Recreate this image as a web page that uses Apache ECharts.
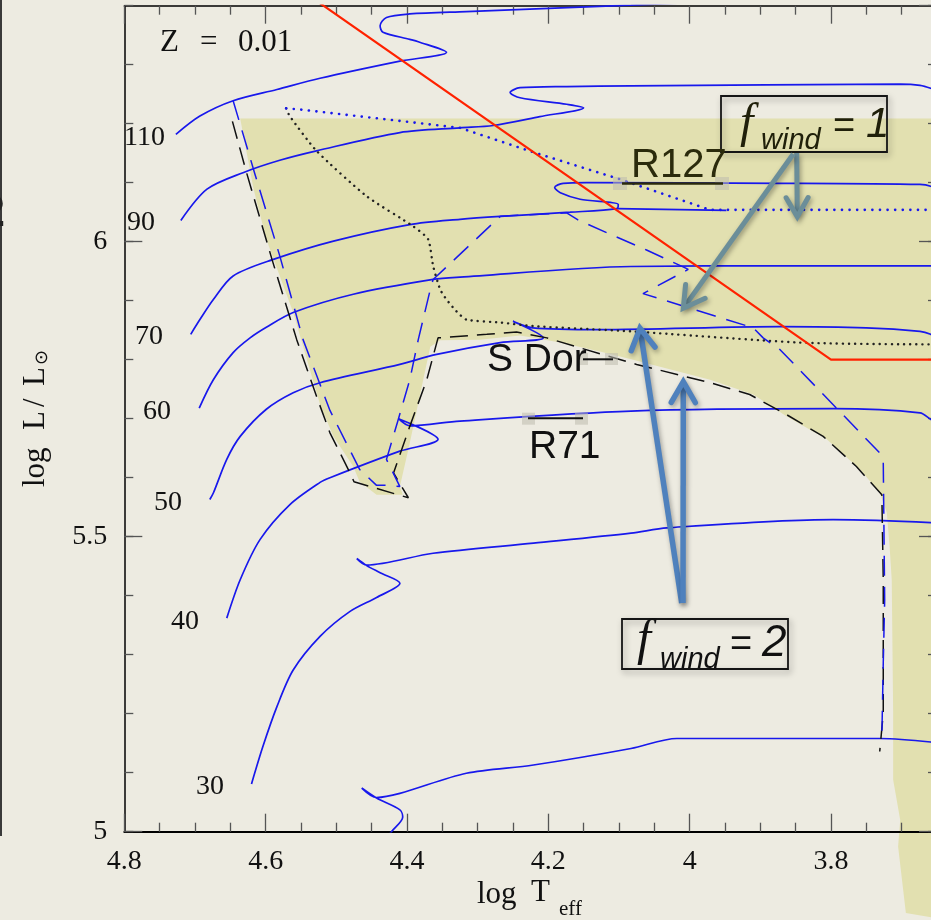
<!DOCTYPE html>
<html><head><meta charset="utf-8">
<script src="https://cdn.jsdelivr.net/npm/echarts@6/dist/echarts.min.js"></script>
<style>html,body{margin:0;padding:0;background:#edebe1;}#c{width:931px;height:920px;}</style>
</head><body><div id="c"></div><script>
// ---------- data (log Teff, log L/Lsun) ----------
const massLabels = ['110','90','70','60','50','40','30'];
const track110 = [[4.727,6.182],[4.693,6.213],[4.646,6.239],[4.584,6.258],[4.523,6.277],[4.410,6.306],[4.344,6.321],[4.384,6.339],[4.396,6.343],[4.434,6.355],[4.438,6.366],[4.429,6.380],[4.396,6.386],[4.316,6.390],[4.083,6.401],[3.985,6.406]];
const track90 = [[4.720,6.036],[4.683,6.089],[4.632,6.117],[4.580,6.138],[4.528,6.154],[4.410,6.185],[4.325,6.193],[4.278,6.197],[4.212,6.212],[4.150,6.227],[4.174,6.233],[4.240,6.244],[4.254,6.253],[4.240,6.261],[4.174,6.263],[4.083,6.264],[3.702,6.267],[3.674,6.265],[3.659,6.260],[3.646,6.253]];
const track70 = [[4.706,5.843],[4.693,5.868],[4.674,5.902],[4.646,5.942],[4.589,5.970],[4.504,6.001],[4.396,6.029],[4.325,6.038],[4.268,6.043],[4.169,6.050],[4.103,6.056],[4.101,6.063],[4.155,6.072],[4.183,6.083],[4.191,6.092],[4.179,6.099],[4.146,6.100],[3.872,6.099],[3.674,6.097],[3.659,6.094],[3.646,6.085]];
const track70b = [[4.103,6.056],[3.948,6.053]];
const track60 = [[4.694,5.718],[4.674,5.766],[4.646,5.812],[4.622,5.837],[4.599,5.855],[4.561,5.880],[4.476,5.911],[4.363,5.936],[4.325,5.940],[4.083,5.958],[3.872,5.959],[3.659,5.959],[3.646,5.956]];
const track50 = [[4.679,5.563],[4.674,5.574],[4.655,5.631],[4.636,5.670],[4.599,5.716],[4.561,5.744],[4.523,5.761],[4.410,5.792],[4.358,5.809],[4.268,5.829],[4.207,5.837],[4.250,5.865],[4.222,5.854],[4.127,5.851],[3.872,5.856],[3.750,5.854],[3.674,5.848],[3.659,5.843],[3.646,5.834]];
const track40 = [[4.655,5.362],[4.636,5.427],[4.608,5.495],[4.566,5.554],[4.523,5.592],[4.509,5.600],[4.410,5.645],[4.356,5.665],[4.412,5.700],[4.396,5.688],[4.325,5.696],[4.083,5.713],[3.797,5.717],[3.674,5.710],[3.659,5.699],[3.646,5.690]];
const track30 = [[4.620,5.081],[4.604,5.144],[4.584,5.212],[4.561,5.274],[4.523,5.331],[4.481,5.373],[4.443,5.397],[4.410,5.421],[4.438,5.439],[4.457,5.451],[4.471,5.463],[4.457,5.452],[4.363,5.472],[4.221,5.489],[4.083,5.506],[4.032,5.515],[3.797,5.529],[3.659,5.524],[3.646,5.520]];
const track25 = [[4.431,4.986],[4.422,5.000],[4.406,5.025],[4.410,5.037],[4.443,5.057],[4.464,5.074],[4.443,5.058],[4.410,5.065],[4.316,5.099],[4.221,5.113],[4.083,5.141],[4.018,5.158],[3.731,5.158],[3.659,5.152],[3.646,5.147]];
const blackDashed = [[4.647,6.204],[4.627,6.117],[4.591,5.970],[4.556,5.834],[4.528,5.738],[4.509,5.676],[4.478,5.602],[4.475,5.593],[4.398,5.566],[4.419,5.608],[4.396,5.687],[4.372,5.766],[4.356,5.837],[4.287,5.843],[4.245,5.847],[4.202,5.837],[4.155,5.820],[4.127,5.810],[4.075,5.792],[3.971,5.761],[3.915,5.741],[3.863,5.707],[3.811,5.670],[3.764,5.619],[3.728,5.571],[3.726,5.427],[3.726,5.201],[3.731,5.136]];
const blueDashed = [[4.646,6.239],[4.615,6.114],[4.580,5.976],[4.547,5.834],[4.509,5.714],[4.467,5.614],[4.443,5.587],[4.429,5.587],[4.410,5.585],[4.429,5.631],[4.412,5.700],[4.396,5.766],[4.384,5.834],[4.367,5.919],[4.363,5.936],[4.330,5.973],[4.268,6.043],[4.174,6.049],[4.158,6.037],[4.115,6.014],[4.061,5.986],[4.007,5.956],[4.002,5.953],[4.066,5.912],[3.964,5.874],[3.910,5.854],[3.896,5.837],[3.872,5.817],[3.731,5.642],[3.726,5.628],[3.724,5.393],[3.726,5.286],[3.728,5.161]];
const blackDotted = [[4.571,6.226],[4.566,6.213],[4.528,6.154],[4.457,6.077],[4.391,6.026],[4.370,6.004],[4.363,5.959],[4.353,5.919],[4.344,5.902],[4.330,5.882],[4.316,5.868],[4.268,5.863],[4.222,5.857],[4.083,5.848],[3.844,5.829],[3.659,5.826],[3.646,5.826]];
const blueDotted = [[4.571,6.226],[4.551,6.224],[4.325,6.193],[4.222,6.152],[4.099,6.106],[3.971,6.054],[3.659,6.054],[3.646,6.054]];
const hdLimit = [[4.53,6.410],[3.80,5.80],[3.60,5.80]];
const shadeRegion = [[4.636,6.209],[3.632,6.209],[3.632,4.850],[3.694,4.862],[3.705,4.975],[3.702,5.020],[3.712,5.088],[3.712,5.201],[3.714,5.427],[3.717,5.483],[3.721,5.541],[3.731,5.575],[3.759,5.614],[3.806,5.665],[3.863,5.704],[3.910,5.741],[3.971,5.766],[4.080,5.800],[4.127,5.814],[4.183,5.829],[4.240,5.841],[4.297,5.834],[4.353,5.833],[4.367,5.822],[4.377,5.766],[4.396,5.659],[4.410,5.585],[4.406,5.571],[4.443,5.571],[4.467,5.593],[4.476,5.619],[4.504,5.670],[4.523,5.724],[4.561,5.880],[4.580,5.942],[4.599,6.004],[4.617,6.089]];

// ---------- styling ----------
const BLUE = '#1818ec';
const SERIF = '"Liberation Serif", "DejaVu Serif", serif';
const SANS = '"Liberation Sans", "Noto Sans", sans-serif';

function track(name, data) {
  return {name, type:'line', data, symbol:'none', showSymbol:false, silent:true, z:3, smooth:0.3,
    lineStyle:{color:BLUE, width:1.7}};
}
function tickAxisX(pos, showLabel) {
  return {gridIndex:0, type:'value', position:pos, min:3.6, max:4.8, interval:0.2, inverse:true,
    axisLine:{show:true, onZero:false, lineStyle:{color:'#000', width:pos==='bottom'?2:1.5}},
    axisTick:{show:true, inside:true, length:18, lineStyle:{color:'#555', width:1.3}},
    minorTick:{show:true, splitNumber:4, length:9, lineStyle:{color:'#555', width:1.3}},
    axisLabel:{show:showLabel, margin:16, color:'#111', fontFamily:SERIF, fontSize:28},
    splitLine:{show:false}, minorSplitLine:{show:false}};
}
function tickAxisY(grid, pos, interval, len, showLine, showLabel) {
  return {gridIndex:grid, type:'value', position:pos, min:5, max:6.4, interval,
    axisLine:{show:showLine, onZero:false, lineStyle:{color:'#000', width:1.5}},
    axisTick:{show:true, inside:true, length:len, lineStyle:{color:'#555', width:1.3}},
    axisLabel:{show:showLabel, margin:17, color:'#111', fontFamily:SERIF, fontSize:28, showMaxLabel:false},
    splitLine:{show:false}};
}
function txt(text, x, y, o) {
  o = o || {};
  const al = o.align || 'left', va = o.va || 'middle';
  return {type:'text', x, y, z:60, rotation:o.rot||0, silent:true,
    style:{text, fill:o.fill||'#111', fontFamily:o.family||SERIF, fontSize:o.size||28,
      fontStyle:o.italic?'italic':'normal', fontWeight:o.bold?'bold':'normal',
      align:al, textAlign:al, verticalAlign:va, textVerticalAlign:va}};
}
function seg(x1,y1,x2,y2,color,w) {
  return {type:'line', z:55, silent:true, shape:{x1,y1,x2,y2}, style:{stroke:color, lineWidth:w}};
}
function handle(x,y,w,h) {
  return {type:'rect', z:54, silent:true, shape:{x,y,width:w,height:h}, style:{fill:'rgba(190,188,175,0.55)'}};
}
function arrow(x1,y1,x2,y2,color,w,head) {
  const dx=x2-x1, dy=y2-y1, L=Math.hypot(dx,dy), bx=-dx/L, by=-dy/L, a=Math.PI/6;
  const wing = s => [x2+head*(bx*Math.cos(s*a)-by*Math.sin(s*a)), y2+head*(bx*Math.sin(s*a)+by*Math.cos(s*a))];
  const sh = {shadowBlur:5, shadowColor:'rgba(0,0,0,0.35)', shadowOffsetX:1.5, shadowOffsetY:2.5};
  return [
    {type:'polyline', z:70, silent:true, shape:{points:[[x1,y1],[x2+bx*3,y2+by*3]]}, style:Object.assign({stroke:color, lineWidth:w, fill:null}, sh)},
    {type:'polyline', z:70, silent:true, shape:{points:[wing(1),[x2,y2],wing(-1)]}, style:Object.assign({stroke:color, lineWidth:w, fill:null, lineJoin:'miter', lineCap:'round'}, sh)}
  ];
}
function box(x,y,w,h) {
  return {type:'rect', z:58, silent:true, shape:{x,y,width:w,height:h},
    style:{fill:'rgba(0,0,0,0)', stroke:'#151515', lineWidth:1.8, shadowBlur:6, shadowColor:'rgba(0,0,0,0.35)', shadowOffsetX:2, shadowOffsetY:3}};
}

const labelPos = [[124,138],[127,223],[135,337],[143,412],[154,503],[171,622],[196,787]];
const graphics = [];
graphics.push(seg(1,0,1,836,'#3a3a3a',2));
graphics.push(txt('2', 5, 214, {family:SANS, size:44, bold:true, align:'right', fill:'#222'}));
graphics.push(txt('Z', 160, 43, {size:31}));
graphics.push(txt('=', 200, 43, {size:31}));
graphics.push(txt('0.01', 238, 43, {size:31}));
massLabels.forEach((m,i) => graphics.push(txt(m, labelPos[i][0], labelPos[i][1], {size:28})));
graphics.push(txt('log', 477, 895, {size:31}));
graphics.push(txt('T', 531, 893, {size:31}));
graphics.push(txt('eff', 559, 909, {size:21}));
graphics.push({type:'group', x:36, y:487, rotation:Math.PI/2, z:60, children:[
  txt('log', 0, 0, {size:31}),
  txt('L', 57, 0, {size:31}),
  txt('/', 80, 0, {size:31}),
  txt('L', 101, 0, {size:31}),
  txt('\u2299', 122, 6, {size:18, family:'"DejaVu Sans", sans-serif'})
]});
graphics.push(txt('R127', 631, 166, {family:SANS, size:40, fill:'#2b2b0c'}));
graphics.push(seg(622,183.5,723,183.5,'#2b2b0c',2.5));
graphics.push(handle(613,177,14,13), handle(715,177,14,13));
graphics.push(txt('S Dor', 487, 360, {family:SANS, size:39}));
graphics.push(seg(583,359.3,613,359.3,'#111',2));
graphics.push(handle(577,353,11,12), handle(605,353,13,12));
graphics.push(txt('R71', 529, 447, {family:SANS, size:39}));
graphics.push(seg(528,418.3,583,418.3,'#111',2));
graphics.push(handle(522,412.7,13,12), handle(575,412.7,13,12));
graphics.push(box(721,96,166,56));
graphics.push(txt('f', 740, 124, {size:48, italic:true, fill:'#20200a'}));
graphics.push(txt('wind', 761, 141, {family:SANS, size:29, italic:true, fill:'#20200a'}));
graphics.push(txt('=', 833, 128, {family:SANS, size:38, fill:'#20200a'}));
graphics.push(txt('1', 866, 125, {family:SANS, size:42, italic:true, fill:'#20200a'}));
graphics.push(box(622,619,166,50));
graphics.push(txt('f', 637, 641, {size:50, italic:true}));
graphics.push(txt('wind', 660, 660, {family:SANS, size:29, italic:true}));
graphics.push(txt('=', 730, 646, {family:SANS, size:38}));
graphics.push(txt('2', 762, 644, {family:SANS, size:44, italic:true}));
graphics.push(...arrow(796.7,153,797.3,216.7,'#6b8e99',5,22));
graphics.push(...arrow(793.3,154,683.3,308.3,'#6b8e99',5,24));
graphics.push(...arrow(681.7,603,640,328.3,'#4f81bd',5.5,24));
graphics.push(...arrow(683,603,683.3,381.7,'#4f81bd',5.5,24));

const option = {
  animation:false,
  backgroundColor:'#edebe1',
  grid:[{left:124.3, top:5.7, width:848, height:826, containLabel:false, outerBoundsMode:'none'},
        {left:124.3, top:5.7, width:812.7, height:826, containLabel:false, outerBoundsMode:'none'}],
  xAxis:[tickAxisX('bottom', true), tickAxisX('top', false),
    {gridIndex:1, type:'value', min:3.65, max:4.8, inverse:true, show:false}],
  yAxis:[tickAxisY(0,'left',0.5,18,true,true), tickAxisY(0,'left',0.1,9,false,false),
    tickAxisY(1,'right',0.5,18,true,false), tickAxisY(1,'right',0.1,9,false,false)],
  series:[
    {type:'custom', coordinateSystem:'cartesian2d', xAxisIndex:0, yAxisIndex:0, z:-1, silent:true, clip:false,
      data:[[4.0,5.5]],
      renderItem:(params, api) => ({type:'polygon', shape:{points:shadeRegion.map(p => api.coord(p))},
        style:{fill:'#e2e0b0'}})},
    track('110', track110), track('90', track90), track('70', track70), track('70b', track70b),
    track('60', track60), track('50', track50), track('40', track40), track('30', track30), track('25', track25),
    {type:'line', data:blackDashed, symbol:'none', silent:true, z:4, lineStyle:{color:'#111', width:1.5, type:[18,9]}},
    {type:'line', data:blueDashed, symbol:'none', silent:true, z:4, lineStyle:{color:BLUE, width:1.5, type:[20,11]}},
    {type:'line', data:blackDotted, symbol:'none', silent:true, z:5, smooth:0.2, lineStyle:{color:'#222', width:2.4, type:[0.1,6], cap:'round'}},
    {type:'line', data:blueDotted, symbol:'none', silent:true, z:5, lineStyle:{color:BLUE, width:2.6, type:[0.1,7.5], cap:'round'}},
    {type:'line', data:hdLimit, symbol:'none', silent:true, z:6, lineStyle:{color:'#ff2200', width:2.2}}
  ],
  graphic:{elements:graphics}
};
const chart = echarts.init(document.getElementById('c'), null, {renderer:'canvas', width:931, height:920});
chart.setOption(option);
</script></body></html>
